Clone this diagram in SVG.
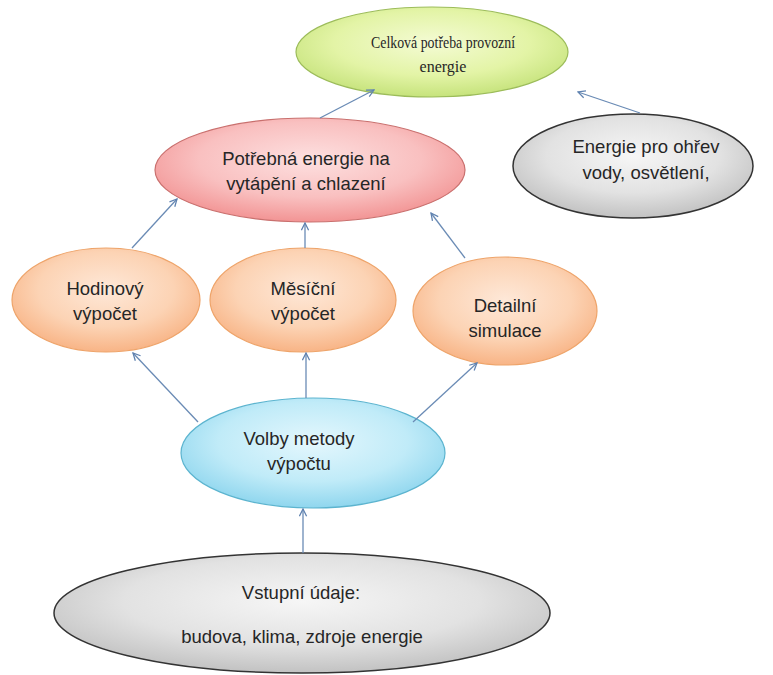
<svg xmlns="http://www.w3.org/2000/svg" width="773" height="675" viewBox="0 0 773 675">
<defs>
  <radialGradient id="gGreen" cx="50%" cy="40%" r="60%">
    <stop offset="0" stop-color="#f4fbd4"/><stop offset="0.6" stop-color="#e3f4a6"/><stop offset="1" stop-color="#c6e37c"/>
  </radialGradient>
  <radialGradient id="gRed" cx="50%" cy="40%" r="60%">
    <stop offset="0" stop-color="#fde0e0"/><stop offset="0.6" stop-color="#f9c0c0"/><stop offset="1" stop-color="#f29494"/>
  </radialGradient>
  <radialGradient id="gGrey" cx="50%" cy="40%" r="60%">
    <stop offset="0" stop-color="#f6f6f6"/><stop offset="0.6" stop-color="#e2e2e2"/><stop offset="1" stop-color="#c2c2c2"/>
  </radialGradient>
  <radialGradient id="gOrange" cx="50%" cy="40%" r="60%">
    <stop offset="0" stop-color="#fee8d8"/><stop offset="0.6" stop-color="#fcd3b4"/><stop offset="1" stop-color="#f8b486"/>
  </radialGradient>
  <radialGradient id="gBlue" cx="50%" cy="40%" r="60%">
    <stop offset="0" stop-color="#e4f7fd"/><stop offset="0.6" stop-color="#c0ebf8"/><stop offset="1" stop-color="#8fd6ee"/>
  </radialGradient>
  <marker id="arr" viewBox="0 0 10 10" refX="9" refY="5" markerWidth="9" markerHeight="9" markerUnits="userSpaceOnUse" orient="auto">
    <path d="M1,1 L9,5 L1,9" fill="none" stroke="#5f82b0" stroke-width="1.4"/>
  </marker>
</defs>
<style>
  .sans { font-family: "Liberation Sans", "Noto Sans", Arial, sans-serif; font-size: 18.5px; fill: #262626; text-anchor: middle; }
  .serif { font-family: "Liberation Serif", "Times New Roman", serif; font-size: 16px; fill: #262626; text-anchor: middle; }
  .conn line { stroke: #6a8bb5; stroke-width: 1.3; marker-end: url(#arr); }
  .green { fill: url(#gGreen); stroke: #9cbc5a; stroke-width: 1.2; }
  .red { fill: url(#gRed); stroke: #c9706e; stroke-width: 1.2; }
  .grey { fill: url(#gGrey); stroke: #333333; stroke-width: 1.5; }
  .orange { fill: url(#gOrange); stroke: #eea46a; stroke-width: 1.2; }
  .blue { fill: url(#gBlue); stroke: #5cb4cf; stroke-width: 1.2; }
</style>
<rect width="773" height="675" fill="#ffffff"/>

<g id="n-celkova">
  <ellipse class="green" cx="432" cy="52" rx="136" ry="45"/>
  <text class="serif" x="443" y="48" textLength="144" lengthAdjust="spacingAndGlyphs">Celková potřeba provozní</text>
  <text class="serif" x="443" y="72">energie</text>
</g>
<g id="n-potrebna">
  <ellipse class="red" cx="310" cy="170" rx="155" ry="52"/>
  <text class="sans" x="306" y="165">Potřebná energie na</text>
  <text class="sans" x="306" y="190">vytápění a chlazení</text>
</g>
<g id="n-ohrev">
  <ellipse class="grey" cx="633" cy="166" rx="120" ry="52"/>
  <text class="sans" x="646" y="153">Energie pro ohřev</text>
  <text class="sans" x="646" y="179">vody, osvětlení,</text>
</g>
<g id="n-hodinovy">
  <ellipse class="orange" cx="106" cy="300" rx="94" ry="52"/>
  <text class="sans" x="105" y="295">Hodinový</text>
  <text class="sans" x="105" y="320">výpočet</text>
</g>
<g id="n-mesicni">
  <ellipse class="orange" cx="303" cy="300" rx="93" ry="52"/>
  <text class="sans" x="303" y="295">Měsíční</text>
  <text class="sans" x="303" y="320">výpočet</text>
</g>
<g id="n-detailni">
  <ellipse class="orange" cx="505" cy="311" rx="92" ry="54"/>
  <text class="sans" x="505" y="312">Detailní</text>
  <text class="sans" x="505" y="337">simulace</text>
</g>
<g id="n-volby">
  <ellipse class="blue" cx="313" cy="453" rx="132" ry="55"/>
  <text class="sans" x="299" y="445">Volby metody</text>
  <text class="sans" x="299" y="470">výpočtu</text>
</g>
<g id="n-vstupni">
  <ellipse class="grey" cx="302" cy="613" rx="248" ry="60"/>
  <text class="sans" x="301" y="599">Vstupní údaje:</text>
  <text class="sans" x="302" y="643">budova, klima, zdroje energie</text>
</g>

<g id="connectors" class="conn">
  <line x1="320" y1="118" x2="374" y2="90"/>
  <line x1="640" y1="113" x2="578" y2="92"/>
  <line x1="132" y1="248" x2="177" y2="199"/>
  <line x1="305" y1="248" x2="305" y2="223"/>
  <line x1="465" y1="258" x2="431" y2="213"/>
  <line x1="198" y1="422" x2="133" y2="353"/>
  <line x1="306" y1="398" x2="306" y2="353"/>
  <line x1="413" y1="422" x2="477" y2="363"/>
  <line x1="303" y1="553" x2="303" y2="509"/>
</g>
</svg>
